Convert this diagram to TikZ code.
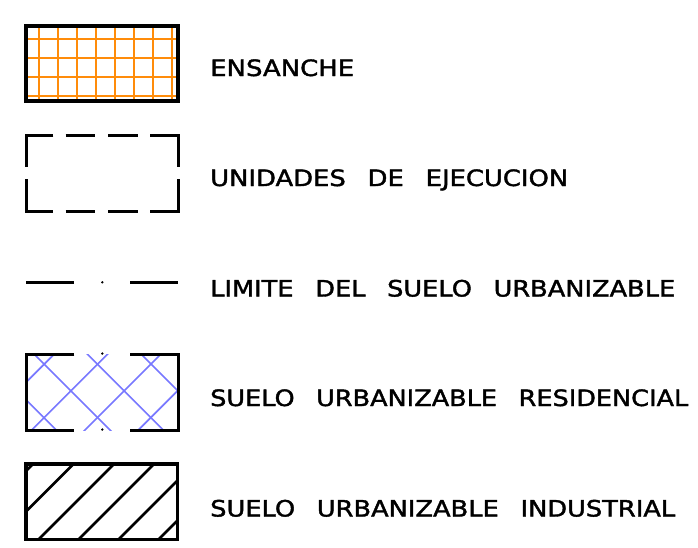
\documentclass[tikz,border=0pt]{standalone}
\usepackage{fontspec}
\setmainfont{DejaVu Sans}
\newfontfamily\cadfont[FakeBold=1.6]{DejaVu Sans}
\usepackage{graphicx}
\definecolor{gridorange}{RGB}{255,140,10}
\definecolor{hatchblue}{RGB}{120,120,255}
\newcommand\fitw[2]{\resizebox{#1pt}{\height}{#2}}
\newcommand\ws{\hspace*{19pt}}
\begin{document}
\begin{tikzpicture}[x=1pt,y=-1pt,
  lbl/.style={anchor=base west, inner sep=0pt, font=\cadfont\fontsize{22.5}{26}\selectfont},
  frame/.style={line width=3.2pt},
  dashframe/.style={line width=3pt},
  thinframe/.style={line width=3pt},
  gridline/.style={gridorange, line width=1.8pt},
  xline/.style={hatchblue, line width=1.7pt},
  hatchline/.style={line width=2.6pt},
  limline/.style={line width=2.6pt}]
\useasboundingbox (0,0) rectangle (698,547);

% ENSANCHE box
\begin{scope}
  \clip (26,26) rectangle (178,101);
  \foreach \x in {39,58,77,96,115,134,153,172}
    \draw[gridline] (\x,26) -- (\x,101);
  \foreach \y in {39,58,77,96}
    \draw[gridline] (26,\y) -- (178,\y);
\end{scope}
\draw[frame] (26,26) rectangle (178,101);

% UNIDADES DE EJECUCION box (dashed)
\draw[dashframe] (53.3,135) -- (26,135) -- (26,166.7);
\draw[dashframe] (26,179) -- (26,211.7) -- (53.3,211.7);
\draw[dashframe] (65.7,135) -- (95,135);
\draw[dashframe] (108.3,135) -- (138.3,135);
\draw[dashframe] (150,135) -- (178,135) -- (178,166.7);
\draw[dashframe] (178,179) -- (178,211.7) -- (150,211.7);
\draw[dashframe] (65.7,211.7) -- (95,211.7);
\draw[dashframe] (108.3,211.7) -- (138.3,211.7);

% LIMITE line
\draw[limline] (26,282.3) -- (74.3,282.3);
\fill (102.3,282.3) circle (1.3pt);
\draw[limline] (130,282.3) -- (178.3,282.3);

% SUELO URBANIZABLE RESIDENCIAL box
\begin{scope}
  \clip (26,354) rectangle (178,430);
  \foreach \c in {-373.7,-320,-266.7,-213}
    \draw[xline] (0,-\c) -- (250,250-\c);
  \foreach \d in {408.3,461.7,515,568.4}
    \draw[xline] (0,\d) -- (250,\d-250);
\end{scope}
\draw[thinframe] (74.3,354) -- (26,354) -- (26,430) -- (74.3,430);
\draw[thinframe] (130,354) -- (178,354) -- (178,430) -- (130,430);
\fill (102.3,353.5) circle (1.3pt);
\fill (102.3,429.5) circle (1.3pt);

% SUELO URBANIZABLE INDUSTRIAL box
\begin{scope}
  \clip (26,464) rectangle (177.7,539.3);
  \foreach \d in {497,537.5,578,618,658,698}
    \draw[hatchline] (0,\d) -- (250,\d-250);
\end{scope}
\draw[frame] (26,464) rectangle (177.7,539.3);

% labels
\node[lbl] (ensanche) at (210,76) {\fitw{144}{ENSANCHE}};
\node[lbl] (unidades) at (210,186) {\fitw{358}{UNIDADES\ws DE\ws EJECUCION}};
\node[lbl] (limite) at (210,296.5) {\fitw{465}{LIMITE\ws DEL\ws SUELO\ws URBANIZABLE}};
\node[lbl] (residencial) at (210,406) {\fitw{478}{SUELO\ws URBANIZABLE\ws RESIDENCIAL}};
\node[lbl] (industrial) at (210,516.5) {\fitw{465}{SUELO\ws URBANIZABLE\ws INDUSTRIAL}};
\end{tikzpicture}
\end{document}
